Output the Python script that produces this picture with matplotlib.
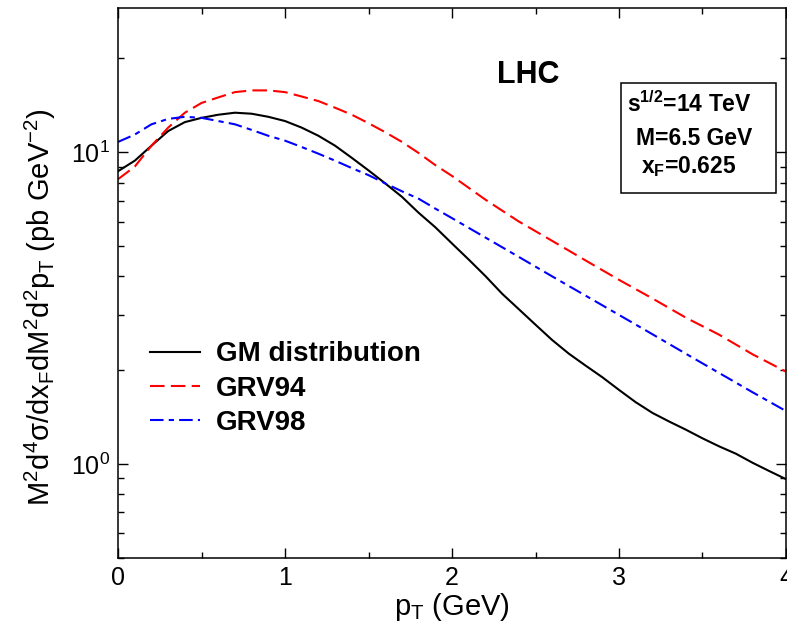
import matplotlib
matplotlib.use("Agg")
import matplotlib.pyplot as plt
from matplotlib.patches import Rectangle
from matplotlib.ticker import LogLocator, MultipleLocator
import numpy as np

plt.rcParams['font.family'] = ['Liberation Sans', 'DejaVu Sans']
plt.rcParams['mathtext.fontset'] = 'custom'
plt.rcParams['mathtext.rm'] = 'Liberation Sans'
plt.rcParams['mathtext.it'] = 'Liberation Sans:italic'
plt.rcParams['mathtext.bf'] = 'Liberation Sans:bold'

# pT grid (GeV) and curves (pb GeV^-2)
pt_gm = [0.0, 0.1, 0.2, 0.3, 0.4, 0.5, 0.6, 0.7, 0.8, 0.9, 1.0, 1.1, 1.2, 1.3, 1.4,
         1.5, 1.6, 1.7, 1.8, 1.9, 2.0, 2.1, 2.2, 2.3, 2.4, 2.5, 2.6, 2.7, 2.8, 2.9,
         3.0, 3.1, 3.2, 3.3, 3.4, 3.5, 3.6, 3.7, 3.8, 3.9, 4.0]
gm = [8.7, 9.4, 10.5, 11.7, 12.5, 12.9, 13.2, 13.4, 13.3, 13.0, 12.6, 12.0, 11.3, 10.5, 9.6,
      8.75, 7.95, 7.2, 6.4, 5.75, 5.1, 4.53, 4.01, 3.52, 3.14, 2.80, 2.50, 2.26, 2.07, 1.90,
      1.73, 1.58, 1.46, 1.37, 1.29, 1.21, 1.14, 1.08, 1.01, 0.95, 0.895]

pt_94 = [0.0, 0.1, 0.2, 0.3, 0.4, 0.5, 0.6, 0.7, 0.8, 0.9, 1.0, 1.1, 1.2, 1.3, 1.4,
         1.5, 1.6, 1.7, 1.8, 1.9, 2.0, 2.2, 2.4, 2.6, 2.8, 3.0, 3.2, 3.4, 3.6, 3.8, 4.0]
grv94 = [8.2, 9.0, 10.5, 12.0, 13.4, 14.4, 15.0, 15.6, 15.8, 15.8, 15.6, 15.1, 14.6, 13.9, 13.2,
         12.4, 11.6, 10.8, 9.95, 9.1, 8.4, 7.05, 6.0, 5.2, 4.5, 3.9, 3.4, 2.95, 2.6, 2.25, 1.98]

pt_98 = [0.0, 0.1, 0.2, 0.3, 0.4, 0.5, 0.6, 0.7, 0.8, 0.9, 1.0, 1.1, 1.2, 1.3, 1.4,
         1.5, 1.6, 1.7, 1.8, 1.9, 2.0, 2.2, 2.4, 2.6, 2.8, 3.0, 3.2, 3.4, 3.6, 3.8, 4.0]
grv98 = [10.8, 11.4, 12.3, 12.8, 13.0, 12.9, 12.6, 12.3, 11.8, 11.3, 10.9, 10.4, 9.9, 9.4, 8.9,
         8.45, 7.95, 7.5, 7.1, 6.6, 6.15, 5.33, 4.62, 4.0, 3.47, 3.01, 2.61, 2.26, 1.96, 1.70, 1.48]

fig = plt.figure(figsize=(7.87, 6.28), dpi=100)
ax = fig.add_axes([0.150, 0.1115, 0.8487, 0.8755])

ax.plot(pt_gm, gm, color='black', lw=1.5, label='GM distribution')
ax.plot(pt_94, grv94, color='red', lw=1.5, dashes=(7, 3), label='GRV94')
ax.plot(pt_98, grv98, color='blue', lw=1.5, dashes=(6.5, 2.5, 2.5, 2.5), label='GRV98')

ax.set_yscale('log')
ax.set_xlim(0, 4)
ax.set_ylim(0.5, 29)
ax.xaxis.set_major_locator(MultipleLocator(1))
ax.xaxis.set_minor_locator(MultipleLocator(0.5))
ax.yaxis.set_major_locator(LogLocator(base=10))
ax.yaxis.set_minor_locator(LogLocator(base=10, subs=np.arange(2, 10)))
ax.tick_params(which='both', direction='in', top=True, right=True, labelsize=18)
ax.tick_params(which='major', length=7, width=1, pad=6)
ax.tick_params(which='minor', length=4, width=1)
for s in ax.spines.values():
    s.set_linewidth(1.1)

ax.set_xlabel(r'p$_\mathregular{T}$ (GeV)', fontsize=21)
ax.xaxis.set_label_coords(0.5, -0.06)
ax.set_ylabel(r'M$^\mathregular{2}$d$^\mathregular{4}$$\mathregular{\sigma}$/dx$_\mathregular{F}$dM$^\mathregular{2}$d$^\mathregular{2}$p$_\mathregular{T}$ (pb GeV$^\mathregular{-2}$)',
              fontsize=21)
ax.yaxis.set_label_coords(-0.09, 0.456)

ax.text(0.614, 0.878, 'LHC', transform=ax.transAxes, fontsize=22, fontweight='bold',
        ha='center', va='center')

# parameter box
ax.add_patch(Rectangle((0.7526, 0.664), 0.232, 0.2, transform=ax.transAxes,
                       fill=False, lw=1.1, ec='black'))
ax.text(0.855, 0.811, r'$\mathbf{s^{1/2}}$=14 TeV', transform=ax.transAxes,
        fontsize=16.5, fontweight='bold', ha='center', va='baseline')
ax.text(0.862, 0.752, 'M=6.5 GeV', transform=ax.transAxes,
        fontsize=16.5, fontweight='bold', ha='center', va='baseline')
ax.text(0.855, 0.700, r'x$_\mathbf{F}$=0.625', transform=ax.transAxes,
        fontsize=16.5, fontweight='bold', ha='center', va='baseline')

leg = ax.legend(loc='upper left', bbox_to_anchor=(0.048, 0.394), frameon=False,
                borderpad=0, borderaxespad=0,
                handlelength=1.8, handletextpad=0.58, labelspacing=0.3,
                prop={'weight': 'bold', 'size': 20})

fig.savefig('out.png', dpi=100)
